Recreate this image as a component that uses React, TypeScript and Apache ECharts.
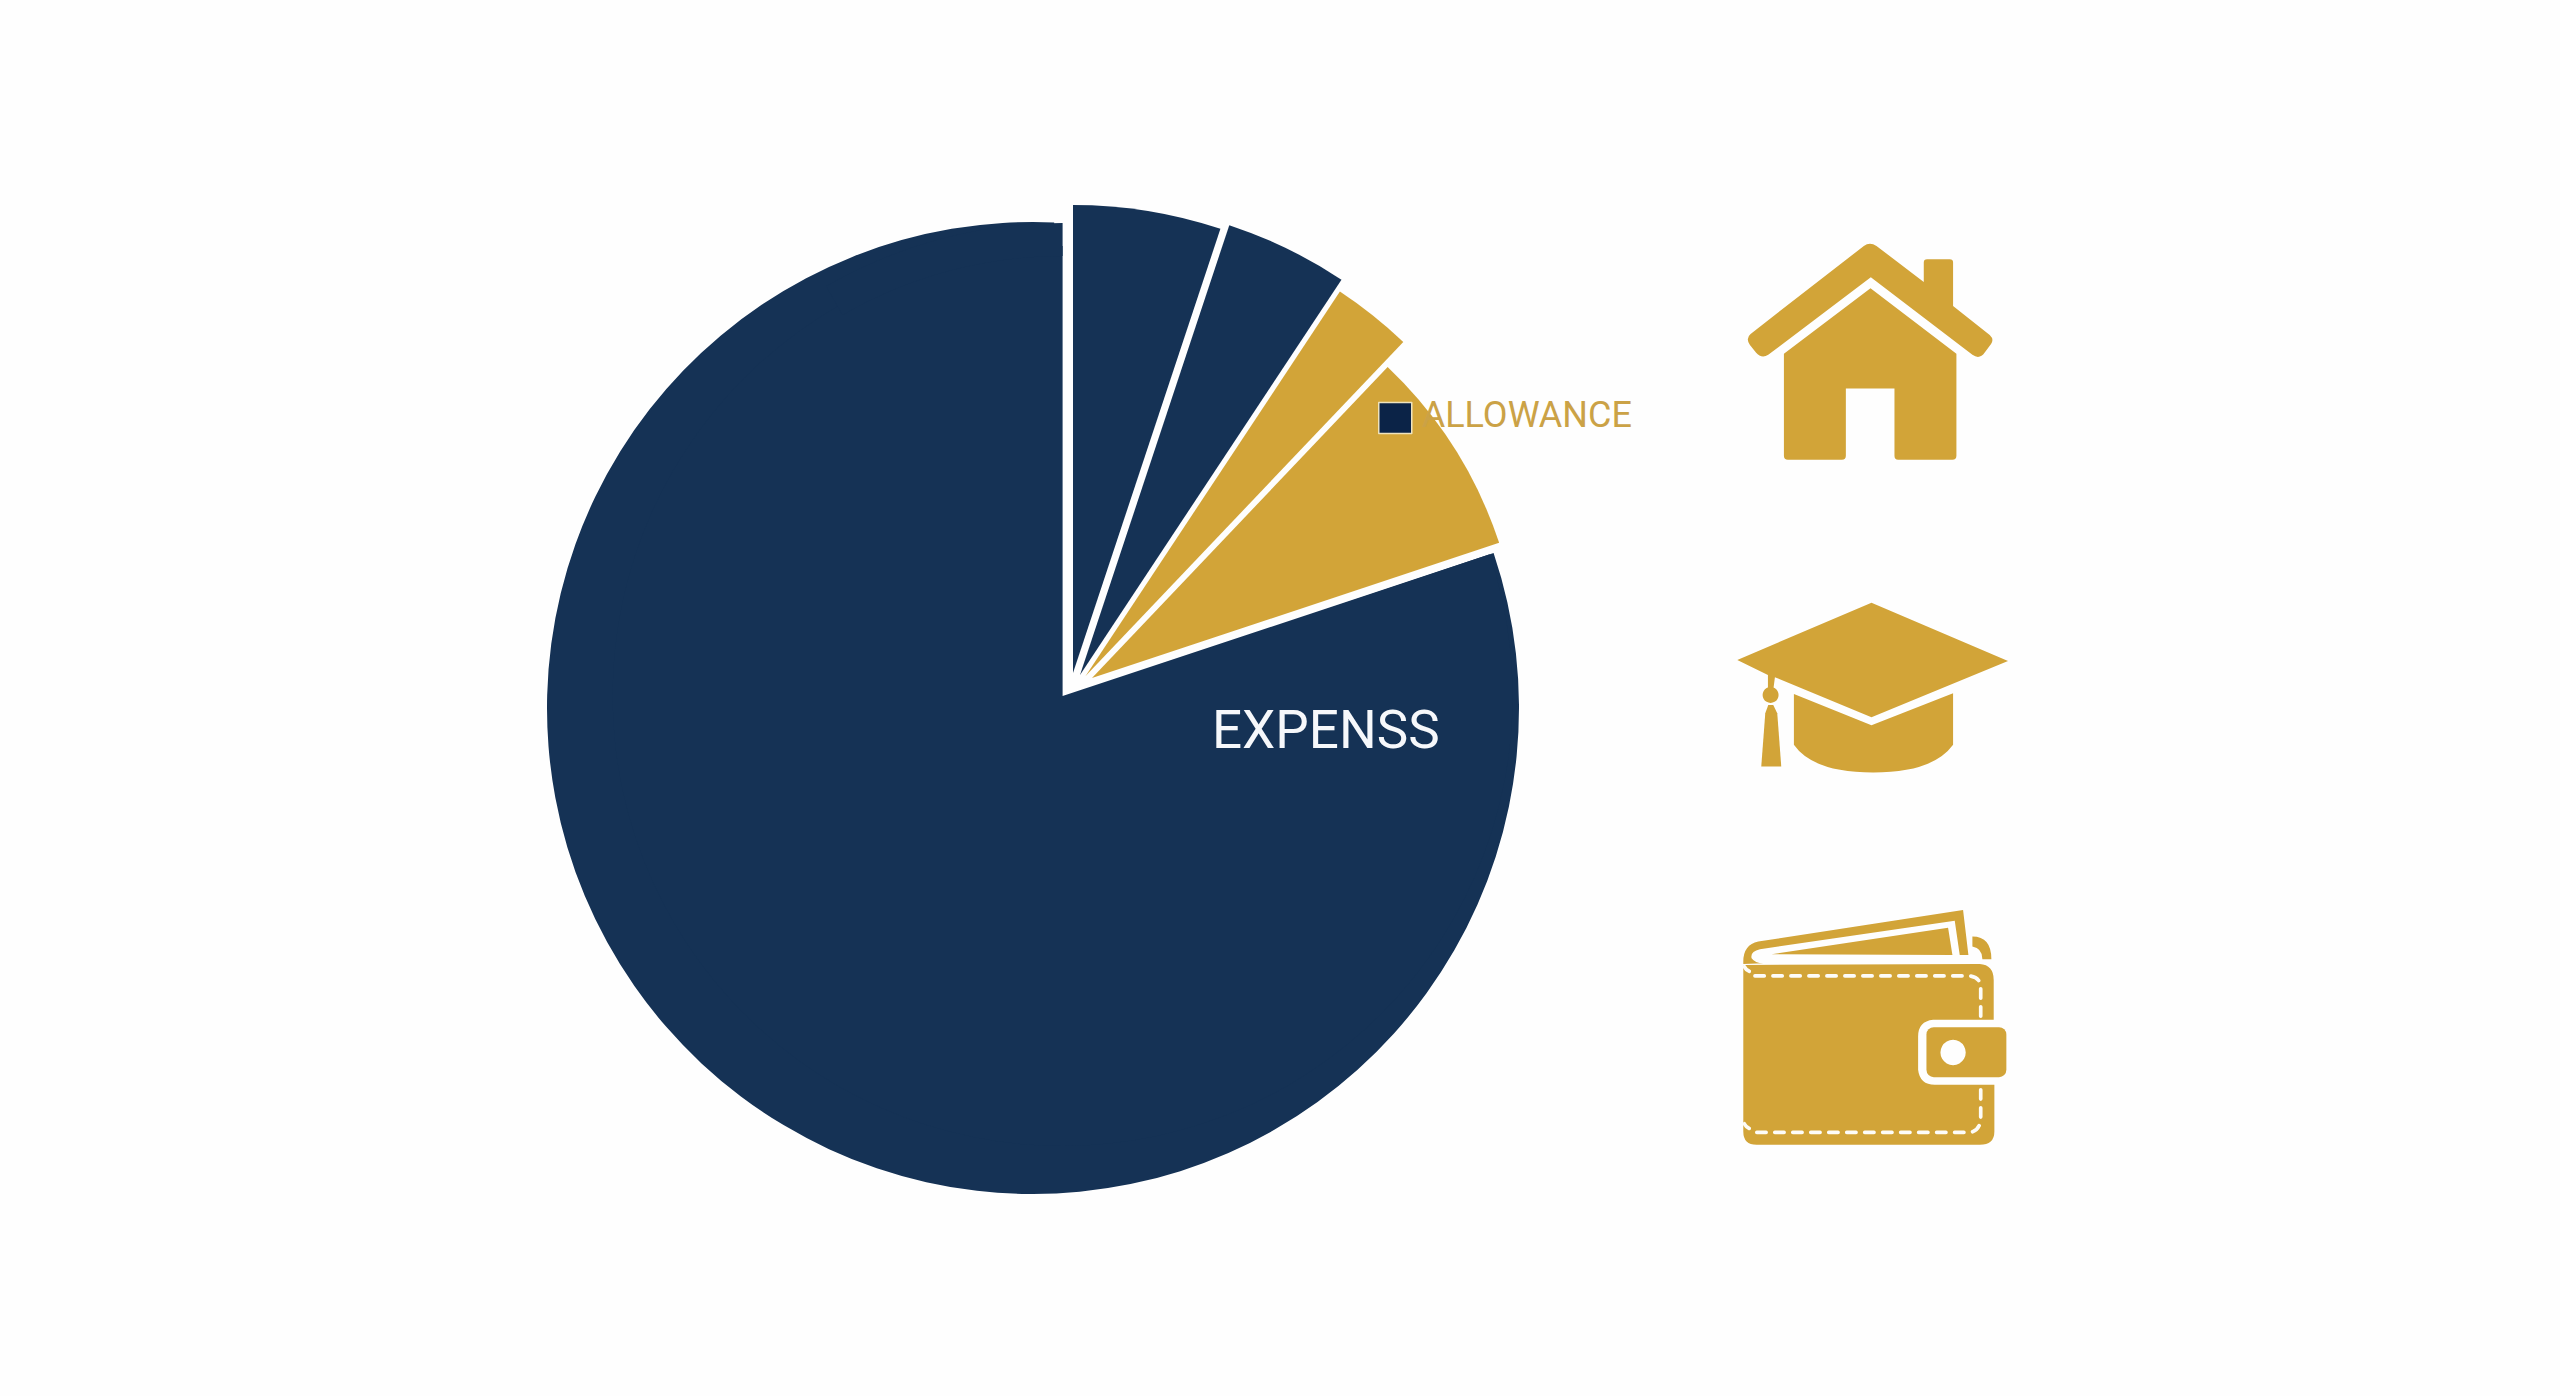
import React, { useEffect, useRef } from "react";
import * as echarts from "echarts";

const sliceNames = ["EXPENSS", "SHARE A", "SHARE B", "SHARE C", "ALLOWANCE"];
const sliceValues = [80.1, 5.1, 4.2, 2.8, 7.8];
const NAVY = "#153255";
const GOLD = "#d2a438";

const TOTAL = sliceValues.reduce((a, b) => a + b, 0);

const houseRoof = "M492 78 Q510 64 530 78 L672 186 L672 128 Q672 118 682 118 L750 118 Q760 118 760 128 L760 258 L870 345 Q884 358 874 372 L855 398 Q840 420 818 405 L513 172 L205 405 Q185 418 168 398 L150 375 Q136 355 152 342 Z";
const houseBody = "M512 205 L770 402 L770 708 Q770 720 758 720 L595 720 Q584 720 584 708 L584 506 L438 506 L438 708 Q438 720 426 720 L264 720 Q252 720 252 708 L252 402 Z";
const capBoard = "M515 68 L925 243 L515 412 L225 292 L220 330 L204 330 L204 285 L112 240 Z";
const capTassel = "M205 375 L220 375 L232 400 L244 560 L184 560 L196 400 Z";
const capBase = "M282 342 L515 436 L760 340 L760 495 Q700 578 520 578 Q340 578 282 495 Z";
const walletFlap = "M130 215 Q130 165 175 155 L790 60 L806 195 L780 195 L765 92 L180 178 Q150 185 155 205 Q165 220 190 220 L130 222 Z";
const walletNote = "M215 193 L745 113 L758 195 Z";
const walletTab = "M818 140 Q875 140 875 208 L848 208 Q848 175 818 170 Z";
const walletBody = "M130 225 L840 222 Q882 225 882 270 L882 390 L700 390 Q655 395 655 440 L655 540 Q660 585 705 585 L884 585 L884 725 Q884 765 840 765 L170 765 Q130 765 130 725 Z";
const walletDashTop = "M165 258 L810 258 Q843 262 843 295 L843 390";
const walletDashBottom = "M843 600 L843 690 Q838 728 805 728 L165 728";
const walletNotchTop = "M133 230 Q138 240 148 244";
const walletNotchBottom = "M133 702 Q138 712 148 716";
const iconPaths: Record<string, string> = {
  houseRoof, houseBody, capBoard, capTassel, capBase, walletFlap, walletNote, walletTab, walletBody,
  walletDashTop, walletDashBottom, walletNotchTop, walletNotchBottom,
};
Object.keys(iconPaths).forEach((k) => {
  echarts.graphic.registerShape(k, echarts.graphic.extendPath(iconPaths[k], {}));
});

const shape = (type: string) => ({ type, style: { fill: GOLD } });

const pieBase = {
  type: "pie",
  silent: true,
  clockwise: true,
  label: { show: false },
  labelLine: { show: false },
  emphasis: { disabled: true },
};

function wedge(i: number, start: number, center: number[], radius: number, color: string) {
  return {
    ...pieBase,
    startAngle: start,
    center,
    radius,
    data: [
      { name: sliceNames[i], value: sliceValues[i], itemStyle: { color } },
      { name: "", value: TOTAL - sliceValues[i], itemStyle: { color: "rgba(0,0,0,0)" } },
    ],
  };
}

export default function App() {
  const ref = useRef<HTMLDivElement>(null);
  useEffect(() => {
    document.body.style.margin = "0";
    const chart = echarts.init(ref.current!, null, { renderer: "svg" });
    const dash = { stroke: "#fdfcf8", lineWidth: 11, lineDash: [28, 26], fill: "none", lineCap: "round" };
    const notch = { stroke: "#fdfcf8", lineWidth: 11, fill: "none", lineCap: "round" };
    let angle = 90;
    const starts = sliceValues.slice(1).map((v) => {
      const s = angle;
      angle -= (v / TOTAL) * 360;
      return s;
    });
    const expenseStart = angle;
    const expenseDatum = { name: sliceNames[0], value: sliceValues[0], itemStyle: { color: NAVY } };
    chart.setOption({
      animation: false,
      backgroundColor: "#fefefe",
      legend: {
        left: 1378,
        top: 397,
        padding: 0,
        itemWidth: 33,
        itemHeight: 31,
        itemGap: 0,
        selectedMode: false,
        formatter: "{a|{name}}",
        data: [
          {
            name: "ALLOWANCE",
            icon: "rect",
            itemStyle: { color: "#0b2347", borderColor: "#efe3bd", borderWidth: 1.5 },
          },
        ],
        textStyle: {
          color: "#cba246",
          fontSize: 36,
          fontFamily: "Roboto",
          rich: {
            a: { color: "#cba246", fontSize: 36, fontFamily: "Roboto", fontWeight: 400, padding: [0, 0, 6, 5] },
          },
        },
      },
      series: [
        {
          ...pieBase,
          center: [1033, 708],
          radius: 486,
          startAngle: expenseStart + 0.25,
          endAngle: 87.5,
          data: [expenseDatum],
        },
        wedge(0, expenseStart, [1062.6, 696], 450, NAVY),
        {
          ...pieBase,
          center: [1062.6, 696],
          radius: [440, 473],
          startAngle: 120,
          endAngle: 90,
          data: [expenseDatum],
        },
        wedge(1, starts[0], [1073, 673], 468, NAVY),
        wedge(2, starts[1], [1080, 675], 474, NAVY),
        wedge(3, starts[2], [1085.6, 676], 461, GOLD),
        wedge(4, starts[3], [1092, 678], 429, GOLD),
      ],
      graphic: [
        {
          type: "text",
          z: 100,
          x: 1212,
          y: 730,
          style: { text: "EXPENSS", fill: "#f6f8fb", font: "400 53px Roboto", textVerticalAlign: "middle" },
        },
        { type: "group", x: 1700, y: 220, scaleX: 1 / 3, scaleY: 1 / 3, children: [shape("houseRoof"), shape("houseBody")] },
        {
          type: "group",
          x: 1700,
          y: 580,
          scaleX: 1 / 3,
          scaleY: 1 / 3,
          children: [
            shape("capBoard"),
            { type: "circle", shape: { cx: 212, cy: 345, r: 24 }, style: { fill: GOLD } },
            shape("capTassel"),
            shape("capBase"),
          ],
        },
        {
          type: "group",
          x: 1700,
          y: 890,
          scaleX: 1 / 3,
          scaleY: 1 / 3,
          children: [
            shape("walletFlap"),
            shape("walletNote"),
            shape("walletTab"),
            shape("walletBody"),
            { type: "rect", shape: { x: 680, y: 412, width: 240, height: 150, r: 22 }, style: { fill: GOLD } },
            { type: "circle", shape: { cx: 760, cy: 488, r: 38 }, style: { fill: "#fefefe" } },
            { type: "walletDashTop", style: dash },
            { type: "walletDashBottom", style: dash },
            { type: "walletNotchTop", style: notch },
            { type: "walletNotchBottom", style: notch },
          ],
        },
      ],
    });
    return () => chart.dispose();
  }, []);
  return <div ref={ref} style={{ width: 2560, height: 1396 }} />;
}
